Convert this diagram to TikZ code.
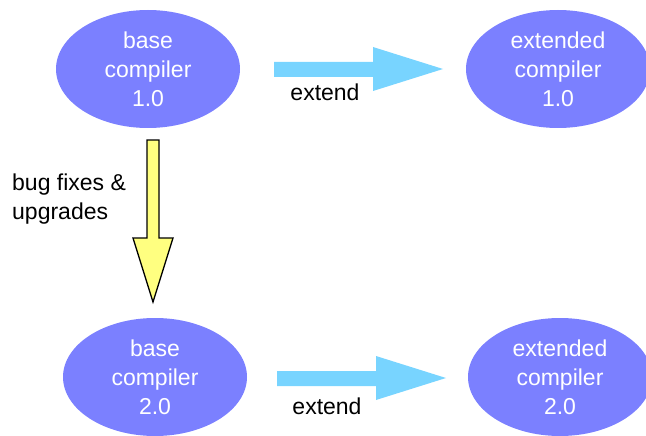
\documentclass[tikz,border=0pt]{standalone}
\usepackage{fontspec}
\setmainfont{Liberation Sans}
\usetikzlibrary{shapes.geometric}
\definecolor{ellfill}{HTML}{7B80FF}
\definecolor{arrcyan}{HTML}{78D4FF}
\definecolor{arryel}{HTML}{FFFF80}
\begin{document}
\begin{tikzpicture}[x=1pt,y=-1pt,
  comp/.style={ellipse, fill=ellfill, minimum width=184pt, minimum height=118pt, inner sep=0pt,
    text=white, align=center, font=\fontsize{23}{29}\selectfont},
  lbl/.style={font=\fontsize{23}{29}\selectfont, text=black, inner sep=0pt},
  ext/.style={fill=arrcyan, draw=none},
  fix/.style={fill=arryel, draw=black, line width=1.3pt, line join=miter}]
\useasboundingbox (0,0) rectangle (646,436);
\node[comp] (b1) at (148,69) {base\\compiler\\1.0};
\node[comp] (e1) at (558,69) {extended\\compiler\\1.0};
\node[comp] (b2) at (155,377) {base\\compiler\\2.0};
\node[comp] (e2) at (560,377) {extended\\compiler\\2.0};
% top extend arrow
\fill[ext] (274,62) -- (373,62) -- (373,47) -- (443,69) -- (373,91) -- (373,77) -- (274,77) -- cycle;
\node[lbl] (x1) at (325,92) {extend};
% bottom extend arrow
\fill[ext] (277,371) -- (376,371) -- (376,356) -- (446,378) -- (376,400) -- (376,386) -- (277,386) -- cycle;
\node[lbl] (x2) at (327,406) {extend};
% yellow arrow
\draw[fix] (147,140) -- (159,140) -- (159,238) -- (173,238) -- (153,302) -- (133,238) -- (147,238) -- cycle;
\node[lbl, anchor=west, align=left] (bf) at (12,199) {bug fixes \&\\upgrades};
\end{tikzpicture}
\end{document}
